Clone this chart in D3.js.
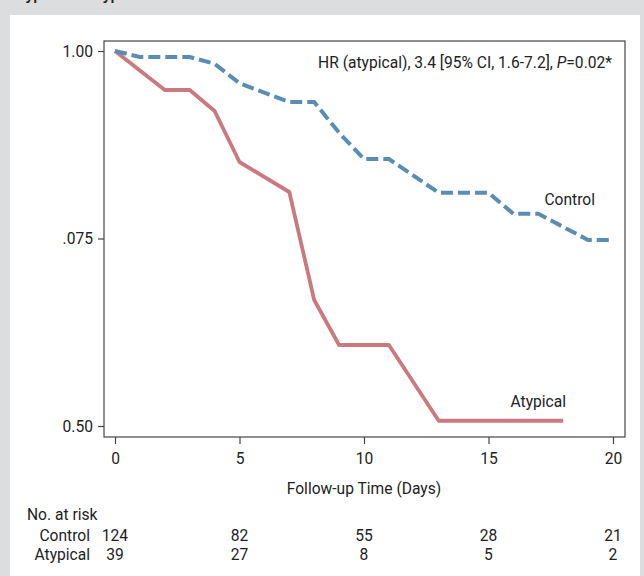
<!DOCTYPE html>
<html>
<head>
<meta charset="utf-8">
<script src="https://cdnjs.cloudflare.com/ajax/libs/d3/7.8.5/d3.min.js"></script>
<style>
  html, body { margin: 0; padding: 0; background: #dcdddf; }
  svg text { font-family: "Roboto", "Liberation Sans Narrow", sans-serif; fill: #222; }
</style>
</head>
<body>
<div id="chart"></div>
<script>
// Kaplan-Meier style curves
var controlDays = [0, 1, 3, 4, 5, 7, 8, 9, 10, 11, 13, 15, 16, 17, 19, 20];
var controlSurv = [1.0, 0.992, 0.992, 0.983, 0.957, 0.932, 0.932, 0.891, 0.856, 0.856, 0.811, 0.811, 0.783, 0.783, 0.748, 0.748];

var atypicalDays = [0, 2, 3, 4, 5, 7, 8, 9, 11, 13, 18];
var atypicalSurv = [1.0, 0.948, 0.948, 0.92, 0.852, 0.812, 0.668, 0.608, 0.608, 0.507, 0.507];

var xTicks = [0, 5, 10, 15, 20];
var yTicks = [0.5, 0.75, 1.0];
var yTickLabels = ["0.50", ".075", "1.00"];

var riskGroups = ["Control", "Atypical"];
var riskControl = [124, 82, 55, 28, 21];
var riskAtypical = [39, 27, 8, 5, 2];

var width = 644, height = 576;
var frame = { left: 104, right: 625, top: 41, bottom: 437 };
var fs = '15.6px';

var svg = d3.select('#chart').append('svg')
  .attr('width', width).attr('height', height);

// grey page + white card
svg.append('rect').attr('width', width).attr('height', height).attr('fill', '#dcdddf');
svg.append('rect').attr('x', 10).attr('y', 15).attr('width', 630).attr('height', 561).attr('fill', '#fff');

// title cut off at the top edge (as in the source)
svg.append('text').attr('x', 18).attr('y', 0)
  .style('font-family', '"Liberation Sans", sans-serif')
  .style('font-weight', 'bold').style('font-size', '14px')
  .text('Typical vs Atypical');

var x = d3.scaleLinear().domain([0, 20]).range([115, 613]);
var y = d3.scaleLinear().domain([0.5, 1.0]).range([426, 51]);

// plot frame
svg.append('rect')
  .attr('x', frame.left).attr('y', frame.top)
  .attr('width', frame.right - frame.left).attr('height', frame.bottom - frame.top)
  .attr('fill', 'none').attr('stroke', '#444').attr('stroke-width', 1.2);

// axes
var yAxis = d3.axisLeft(y).tickValues(yTicks).tickSize(6).tickPadding(5)
  .tickFormat(function (d, i) { return yTickLabels[i]; });
var gy = svg.append('g').attr('transform', 'translate(' + frame.left + ',0)').call(yAxis);

var xAxis = d3.axisBottom(x).tickValues(xTicks).tickSize(7).tickPadding(5);
var gx = svg.append('g').attr('transform', 'translate(0,' + frame.bottom + ')').call(xAxis);

[gx, gy].forEach(function (g) {
  g.select('.domain').remove();
  g.selectAll('.tick line').attr('stroke', '#444').attr('stroke-width', 1.2);
  g.selectAll('.tick text').style('font-size', fs).attr('fill', '#222');
});
gx.selectAll('.tick text').attr('dy', '0.95em');

// curves
var line = d3.line()
  .x(function (d) { return x(d[0]); })
  .y(function (d) { return y(d[1]); });

svg.append('path')
  .datum(d3.zip(atypicalDays, atypicalSurv))
  .attr('d', line)
  .attr('fill', 'none').attr('stroke', '#cb797e').attr('stroke-width', 3.8)
  .attr('stroke-linejoin', 'round');

svg.append('path')
  .datum(d3.zip(controlDays, controlSurv))
  .attr('d', line)
  .attr('fill', 'none').attr('stroke', '#5a8db4').attr('stroke-width', 4)
  .attr('stroke-dasharray', '12,5');

// labels inside the plot
svg.append('text').attr('x', 612).attr('y', 68).attr('text-anchor', 'end')
  .style('font-size', fs)
  .html('HR (atypical), 3.4 [95% CI, 1.6-7.2], <tspan font-style="italic">P</tspan>=0.02*');
svg.append('text').attr('x', 595).attr('y', 205).attr('text-anchor', 'end')
  .style('font-size', fs).text('Control');
svg.append('text').attr('x', 566).attr('y', 407).attr('text-anchor', 'end')
  .style('font-size', fs).text('Atypical');

// axis title
svg.append('text').attr('x', x(10)).attr('y', 494).attr('text-anchor', 'middle')
  .style('font-size', fs).text('Follow-up Time (Days)');

// number at risk table
svg.append('text').attr('x', 27).attr('y', 520).style('font-size', fs).text('No. at risk');

var riskRows = [riskControl, riskAtypical];
riskRows.forEach(function (row, r) {
  var yy = 541 + r * 19;
  svg.append('text').attr('x', 90).attr('y', yy).attr('text-anchor', 'end')
    .style('font-size', fs).text(riskGroups[r]);
  svg.selectAll('.risk' + r)
    .data(row)
    .enter()
    .append('text')
    .attr('class', 'risk' + r)
    .attr('x', function (d, i) { return x(xTicks[i]); })
    .attr('y', yy)
    .attr('text-anchor', 'middle')
    .style('font-size', fs)
    .text(function (d) { return d; });
});
</script>
</body>
</html>
